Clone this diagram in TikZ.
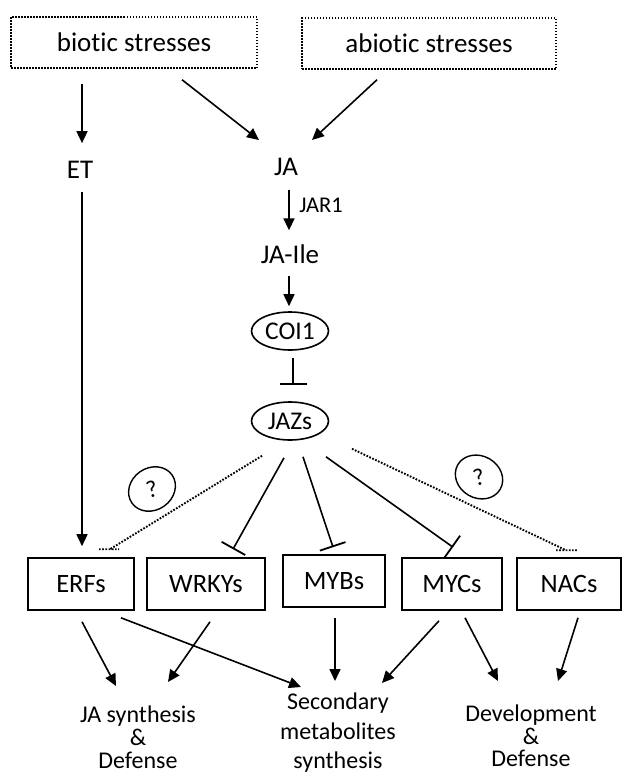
\documentclass[tikz,border=0pt]{standalone}
\usepackage{fontspec}
\setmainfont{Carlito}[Ligatures=NoCommon]
\usetikzlibrary{arrows.meta,calc,shapes.geometric}

\begin{document}
\begin{tikzpicture}
    [
        x=1pt, y=-1pt,
        stressbox/.style={rectangle, draw, line width=1.5pt, dash pattern=on 1.5pt off 1.5pt, inner sep=0pt, font=\fontsize{27}{32}\selectfont},
        tfbox/.style={rectangle, draw, line width=1.6pt, inner sep=0pt, minimum height=52pt, font=\fontsize{26.5}{32}\selectfont},
        signal/.style={inner sep=0pt, font=\fontsize{27}{32}\selectfont},
        protein/.style={ellipse, draw, line width=1.6pt, inner sep=0pt, minimum width=77pt, minimum height=38pt, font=\fontsize{25.5}{30}\selectfont},
        query/.style={ellipse, draw, line width=1.4pt, inner sep=0pt, minimum width=49pt, minimum height=42pt, font=\fontsize{24}{28}\selectfont},
        outcome/.style={inner sep=0pt, align=center, font=\fontsize{24}{23}\selectfont},
        act/.style={line width=1.6pt, -{Triangle[length=12pt, width=11pt]}},
        inh/.style={line width=1.6pt, -{Bar[width=27pt, line width=1.8pt]}},
        unknown/.style={line width=1.9pt, dash pattern=on 1.7pt off 1.5pt},
    ]
    \useasboundingbox (0,0) rectangle (622,774);
    % stresses
    \node (biotic) at (134,42.5) [stressbox, minimum width=246pt, minimum height=51pt] {biotic stresses};
    \node (abiotic) at (429,43.5) [stressbox, minimum width=254pt, minimum height=51pt] {abiotic stresses};
    % hormones
    \node (et) at (80,170) [signal] {ET};
    \node (ja) at (286,167) [signal] {JA};
    \node (jar1) at (321,205) [signal, font=\fontsize{22.5}{27}\selectfont] {JAR1};
    \node (jaile) at (290,254) [signal] {JA-Ile};
    \node (coi1) at (290,331) [protein] {COI1};
    \node (jazs) at (290,421) [protein] {JAZs};
    \node (q1) at (152,489) [query, rotate=35] {\rotatebox{-20}{?}};
    \node (q2) at (479,477) [query, rotate=-30] {\rotatebox{45}{?}};
    % transcription factors
    \node (erfs) at (81,584) [tfbox, minimum width=106pt] {ERFs};
    \node (wrkys) at (206,584) [tfbox, minimum width=118pt] {WRKYs};
    \node (mybs) at (334,581) [tfbox, minimum width=102pt] {MYBs};
    \node (mycs) at (452,584) [tfbox, minimum width=100pt] {MYCs};
    \node (nacs) at (569,584) [tfbox, minimum width=104pt] {NACs};
    % responses
    \node (jasyn) at (138,737) [outcome] {JA synthesis\\\&\\Defense};
    \node (secsyn) at (338,733) [outcome, font=\fontsize{24}{29.5}\selectfont] {Secondary\\metabolites\\synthesis};
    \node (devdef) at (531,736) [outcome, font=\fontsize{24}{22.5}\selectfont] {Development\\\&\\Defense};

    \draw [act] ($(biotic.south)+(-52,15)$) -- ($(et.north)+(2,-18)$);
    \draw [act] ($(biotic.south)+(48,11)$) -- ($(ja.north)+(-27,-18)$);
    \draw [act] ($(abiotic.south)+(-52,10)$) -- ($(ja.north)+(26,-18)$);
    \draw [act] ($(ja.south)+(3,14)$) -- ($(jaile.north)+(-1,-14)$);
    \draw [act] ($(jaile.south)+(-1,12)$) -- ($(coi1.north)+(-1,-5)$);
    \draw [inh] ($(coi1.south)+(3,7)$) -- ($(jazs.north)+(3,-16)$);
    \draw [act] ($(et.south)+(2,13)$) -- ($(erfs.north)+(1,-11)$);
    \draw [unknown] ($(jazs.south)+(-28,15)$) -- ($(erfs.north)+(29,-8)$) ++(-11,0) -- ++(20,0);
    \draw [inh] ($(jazs.south)+(-6,17)$) -- ($(wrkys.north)+(27,-8)$);
    \draw [inh] ($(jazs.south)+(13,16)$) -- ($(mybs.north)+(-1,-7)$);
    \draw [inh] ($(jazs.south)+(36,16)$) -- ($(mycs.north)+(1,-10)$);
    \draw [unknown] ($(jazs.south)+(62,8)$) -- ($(nacs.north)+(-3,-7)$) ++(-10,0) -- ++(22,0);
    \draw [act] ($(erfs.south)+(1,11)$) -- ($(jasyn)+(-22,-51)$);
    \draw [act] ($(wrkys.south)+(4,11)$) -- ($(jasyn)+(30,-55)$);
    \draw [act] ($(erfs.south)+(40,7)$) -- ($(secsyn)+(-37,-46)$);
    \draw [act] ($(mybs.south)+(1,10)$) -- ($(secsyn)+(-3,-52)$);
    \draw [act] ($(mycs.south)+(-13,10)$) -- ($(secsyn)+(44,-50)$);
    \draw [act] ($(mycs.south)+(13,7)$) -- ($(devdef)+(-33,-55)$);
    \draw [act] ($(nacs.south)+(9,7)$) -- ($(devdef)+(27,-55)$);
\end{tikzpicture}
\end{document}
